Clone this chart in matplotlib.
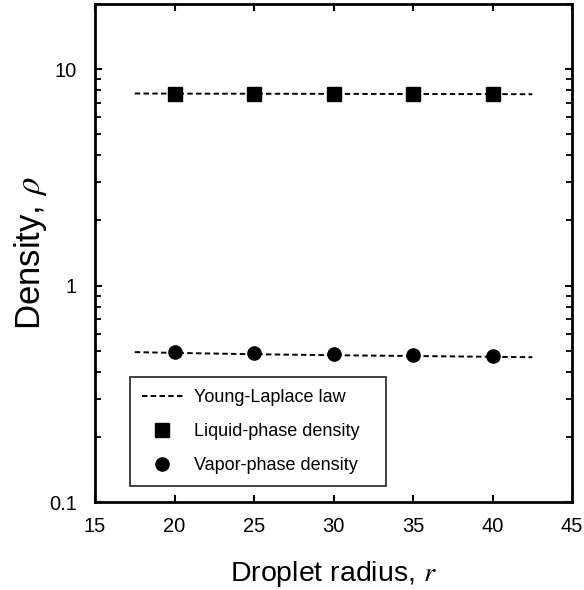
import matplotlib
matplotlib.use("Agg")
import matplotlib.pyplot as plt
from matplotlib.ticker import LogLocator, FixedLocator, NullFormatter

plt.rcParams["font.family"] = ["Liberation Sans", "DejaVu Sans"]
plt.rcParams["mathtext.fontset"] = "stix"

# Simulation data
radius = [20, 25, 30, 35, 40]
liquid_density = [7.7, 7.7, 7.7, 7.7, 7.7]
vapor_density = [0.496, 0.488, 0.481, 0.476, 0.471]

# Young-Laplace predictions
yl_radius = [17.5, 20, 25, 30, 35, 40, 42.5]
yl_liquid = [7.72, 7.71, 7.70, 7.69, 7.68, 7.67, 7.66]
yl_vapor = [0.493, 0.489, 0.482, 0.477, 0.473, 0.469, 0.467]

fig = plt.figure(figsize=(5.84, 5.90), dpi=100)
ax = fig.add_axes([0.1627, 0.149, 0.8168, 0.8442])

ax.plot(yl_radius, yl_liquid, "k--", lw=1.4, dashes=(2.8, 1.7), label="Young-Laplace law")
ax.plot(yl_radius, yl_vapor, "k--", lw=1.4, dashes=(2.8, 1.7))
ax.plot(radius, liquid_density, "ks", ms=10, ls="none", label="Liquid-phase density")
ax.plot(radius, vapor_density, "ko", ms=9.5, ls="none", label="Vapor-phase density")

ax.set_yscale("log")
ax.set_xlim(15, 45)
ax.set_ylim(0.1, 20)
ax.xaxis.set_major_locator(FixedLocator([15, 20, 25, 30, 35, 40, 45]))
ax.yaxis.set_major_locator(FixedLocator([0.1, 1, 10]))
ax.yaxis.set_minor_locator(LogLocator(base=10, subs=range(2, 10)))
ax.yaxis.set_minor_formatter(NullFormatter())
ax.set_yticklabels(["0.1", "1", "10"])

ax.tick_params(which="both", direction="in", top=True, right=True, labelsize=14.5)
ax.tick_params(axis="x", pad=11)
ax.tick_params(axis="y", pad=13)
ax.tick_params(which="major", length=5, width=1.5)
ax.tick_params(which="minor", length=4, width=1.3)
for s in ax.spines.values():
    s.set_linewidth(2)

ax.set_xlabel("Droplet radius, $r$", fontsize=20.5, labelpad=16)
ax.set_ylabel(r"Density, $\rho$", fontsize=25, labelpad=0)

leg = ax.legend(loc="lower left", bbox_to_anchor=(0.073, 0.032, 0.537, 0.215),
                mode="expand", fontsize=13, frameon=True, fancybox=False,
                edgecolor="black", handlelength=2.3, handletextpad=0.6,
                labelspacing=0.95, borderpad=0.65, borderaxespad=0)
leg.get_frame().set_linewidth(1.3)

fig.savefig("out.png", dpi=100)
